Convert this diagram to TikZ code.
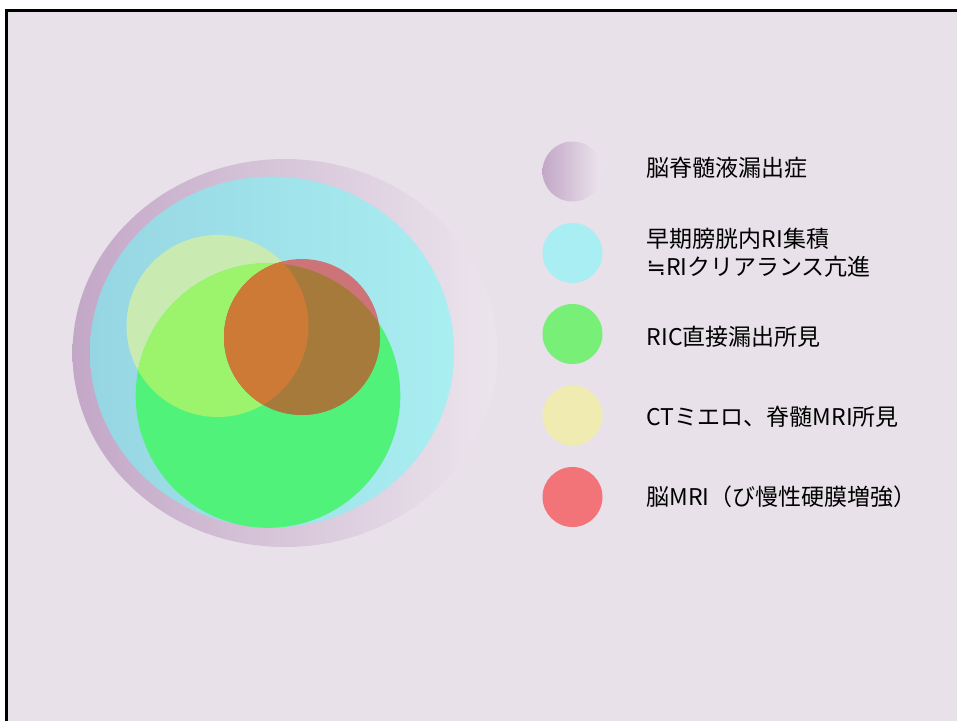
\documentclass[tikz,border=0pt]{standalone}
\usepackage{fontspec}
\setmainfont{Noto Sans CJK JP}
\newfontfamily\symfont{DejaVu Sans}
\definecolor{bgc}{HTML}{E8E1E9}
\definecolor{purpL}{HTML}{C3A7C7}
\definecolor{purpR}{HTML}{ECE5ED}
\definecolor{cyanL}{HTML}{96D6E3}
\definecolor{cyanR}{HTML}{A9EEF1}
\definecolor{cyanc}{HTML}{A9EEF2}
\definecolor{yelV}{HTML}{C9EBB1}
\definecolor{yelc}{HTML}{F0EBB0}
\definecolor{grnV}{HTML}{50F27A}
\definecolor{grnc}{HTML}{78F078}
\definecolor{ygV}{HTML}{9CF46C}
\definecolor{redV}{HTML}{CC7478}
\definecolor{redc}{HTML}{F27478}
\definecolor{rgV}{HTML}{A67A3B}
\definecolor{rygV}{HTML}{CD7A37}
\tikzset{
  legdot/.style={circle, minimum size=60pt, inner sep=0pt, draw=none},
  legtxt/.style={anchor=west, inner sep=0pt, align=left, text=black,
    font=\fontsize{23}{28}\selectfont},
}
\begin{document}
\begin{tikzpicture}[x=1pt,y=1pt]
\useasboundingbox (0,0) rectangle (957,-720);
\clip (0,0) rectangle (957,-720);
\fill[white] (0,0) rectangle (957,-720);
\draw[line width=3pt, fill=bgc] (6.5,-10.5) rectangle (975,-740);
% Venn
\shade[left color=purpL, right color=purpR] (285,-353) ellipse (212.5 and 194);
\shade[left color=cyanL, right color=cyanR] (272,-352) ellipse (182 and 175.5);
\fill[yelV] (217.5,-326) circle (91);
\fill[grnV] (268,-395.5) circle (132.3);
\begin{scope}
  \clip (217.5,-326) circle (91);
  \fill[ygV] (268,-395.5) circle (132.3);
\end{scope}
\fill[redV] (302,-337) circle (78);
\begin{scope}
  \clip (302,-337) circle (78);
  \fill[rgV] (268,-395.5) circle (132.3);
  \fill[rygV] (217.5,-326) circle (91);
\end{scope}
% legend
\node[legdot, left color=purpL, right color=purpR] (l1) at (572.5,-171.5) {};
\node[legdot, fill=cyanc] (l2) at (572.5,-253) {};
\node[legdot, fill=grnc] (l3) at (572.5,-334) {};
\node[legdot, fill=yelc] (l4) at (572.5,-415.5) {};
\node[legdot, fill=redc] (l5) at (572.5,-497) {};
\node[legtxt] (t1) at (646.5,-168) {脳脊髄液漏出症};
\node[legtxt] (t2) at (646.5,-253) {早期膀胱内RI集積\\{\symfont ≒}RIクリアランス亢進};
\node[legtxt] (t3) at (646.5,-337) {RIC直接漏出所見};
\node[legtxt] (t4) at (646.5,-417) {CTミエロ、脊髄MRI所見};
\node[legtxt] (t5) at (646.5,-497) {脳MRI（び慢性硬膜増強）};
\end{tikzpicture}
\end{document}
